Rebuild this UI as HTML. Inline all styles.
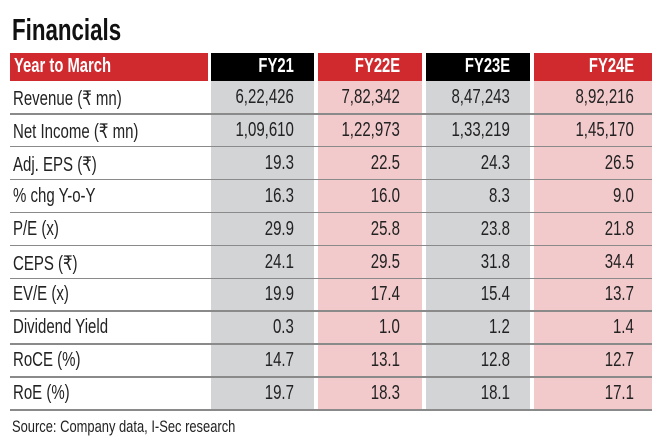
<!DOCTYPE html>
<html><head><meta charset="utf-8"><style>
body{margin:0;width:660px;height:440px;background:#fff;position:relative;overflow:hidden;font-family:"Liberation Sans",sans-serif;}
.a{position:absolute}
.t{position:absolute;white-space:nowrap;transform-origin:left center;}
.r{position:absolute;white-space:nowrap;transform-origin:right center;text-align:right}
</style></head><body>
<div class="t" style="left:12px;top:12px;font-size:31px;font-weight:bold;color:#111;transform:scaleX(0.72)">Financials</div>
<div class="a" style="left:10px;top:53px;width:198px;height:28px;background:#d02a2f"></div>
<div class="t" style="left:14px;top:55px;font-size:20px;font-weight:bold;color:#fff;transform:scaleX(0.74)">Year to March</div>
<div class="a" style="left:211px;top:53px;width:103px;height:28px;background:#000"></div>
<div class="a" style="left:318px;top:53px;width:104px;height:28px;background:#d02a2f"></div>
<div class="a" style="left:426px;top:53px;width:104px;height:28px;background:#000"></div>
<div class="a" style="left:534px;top:53px;width:118px;height:28px;background:#d02a2f"></div>
<div class="a" style="left:211px;top:81px;width:103px;height:330px;background:#d3d4d6"></div>
<div class="a" style="left:318px;top:81px;width:104px;height:330px;background:#f3cacc"></div>
<div class="a" style="left:426px;top:81px;width:104px;height:330px;background:#d3d4d6"></div>
<div class="a" style="left:534px;top:81px;width:118px;height:330px;background:#f3cacc"></div>
<div id="c"></div>
<div class="t" style="left:12px;top:417px;font-size:17px;color:#222;transform:scaleX(0.76)">Source: Company data, I-Sec research</div>
<script>
var hd=[["FY21",294],["FY22E",400],["FY23E",510],["FY24E",634]];
var h="";
hd.forEach(function(x){h+='<div class="r" style="right:'+(660-x[1])+'px;top:55px;font-size:20px;font-weight:bold;color:#fff;transform:scaleX(0.74)">'+x[0]+'</div>';});
var rows=[["Revenue (₹ mn)","6,22,426","7,82,342","8,47,243","8,92,216"],
["Net Income (₹ mn)","1,09,610","1,22,973","1,33,219","1,45,170"],
["Adj. EPS (₹)","19.3","22.5","24.3","26.5"],
["% chg Y-o-Y","16.3","16.0","8.3","9.0"],
["P/E (x)","29.9","25.8","23.8","21.8"],
["CEPS (₹)","24.1","29.5","31.8","34.4"],
["EV/E (x)","19.9","17.4","15.4","13.7"],
["Dividend Yield","0.3","1.0","1.2","1.4"],
["RoCE (%)","14.7","13.1","12.8","12.7"],
["RoE (%)","19.7","18.3","18.1","17.1"]];
var rx=[294,400,510,634];
rows.forEach(function(r,i){var y=81+i*32.9;
h+='<div class="t" style="left:13px;top:'+(y+5)+'px;font-size:20px;color:#222;transform:scaleX(0.75)">'+r[0]+'</div>';
for(var j=1;j<5;j++)h+='<div class="r" style="right:'+(660-rx[j-1])+'px;top:'+(y+5)+'px;font-size:20px;color:#222;transform:scaleX(0.75)">'+r[j]+'</div>';
h+='<div class="a" style="left:10px;top:'+(y+32)+'px;width:642px;height:1.5px;background:#8a8a8a"></div>';});
document.getElementById("c").innerHTML=h;
</script>
</body></html>
